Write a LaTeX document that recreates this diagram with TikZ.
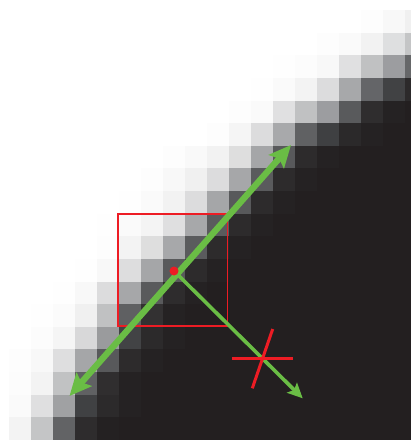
\documentclass[tikz,border=0pt]{standalone}
\usetikzlibrary{arrows.meta}
\definecolor{dk}{HTML}{231F20}
\definecolor{gr}{HTML}{6ABD45}
\definecolor{rd}{HTML}{ED1C24}
\newcommand{\pxrow}[4]{%
  \foreach \h [count=\i from #2] in {#4} {
    \definecolor{cc}{HTML}{\h}
    \fill[cc] ({9.3+22*\i},{10+22.63*#1}) rectangle ({9.3+22*\i+22.5},{10+22.63*#1+23});
  }
  \fill[dk] ({9.3+22*#3},{10+22.63*#1}) rectangle (412,{10+22.63*#1+23});
}
\tikzset{
  thickarrow/.style={gr, line width=6.3pt, {Stealth[length=22pt,width=20pt,inset=4pt]}-{Stealth[length=22pt,width=20pt,inset=4pt]}},
  thinarrow/.style={gr, line width=3.6pt, -{Stealth[length=15pt,width=14pt,inset=3pt]}},
  redbox/.style={rd, line width=1.9pt},
  redmark/.style={rd, line width=3pt},
  reddot/.style={circle, fill=rd, inner sep=0pt, minimum size=9pt}
}
\begin{document}
\begin{tikzpicture}[x=1pt,y=-1pt]
\useasboundingbox (0,0) rectangle (411,441);
\fill[white] (0,0) rectangle (411,441);
\begin{scope}
\clip (0,0) rectangle (411,441);
\pxrow{0}{16}{19}{FDFDFD,F8F8F8,F0F0F0}
\pxrow{1}{14}{19}{FDFDFD,FAFAFA,F2F2F2,DEDFE0,C4C5C6}
\pxrow{2}{12}{19}{FEFEFE,FCFCFC,F8F8F8,E0E0E1,C0C1C2,9C9DA0,666769}
\pxrow{3}{11}{19}{FEFEFE,FAFAFA,F3F3F3,DCDCDD,A7A8AA,646568,414244,2C2A2B}
\pxrow{4}{10}{18}{FDFDFD,FAFAFA,E0E0E1,C0C1C2,9C9DA0,595A5C,2F2D2E,252223}
\pxrow{5}{9}{17}{FDFDFD,F5F5F5,DCDCDD,A8A9AB,606163,3F4042,2B292A,252223}
\pxrow{6}{7}{15}{FDFDFD,F9F9F9,F2F2F2,DEDEDE,A5A6A8,58595B,2D2B2C,252223}
\pxrow{7}{6}{14}{FDFDFD,F8F8F8,F0F0F0,DCDCDD,A6A7A9,5A5B5D,2D2B2C,252223}
\pxrow{8}{5}{13}{FEFEFE,FAFAFA,F2F2F2,DCDCDD,A5A6A8,58595B,2D2B2C,252223}
\pxrow{9}{4}{12}{FEFEFE,FAFAFA,F4F4F4,DFDFE0,A7A8AA,5A5B5D,2D2B2C,252223}
\pxrow{10}{4}{11}{FDFDFD,F3F3F3,DEDEDE,A7A8AA,5A5B5D,2D2B2C,252223}
\pxrow{11}{3}{10}{FEFEFE,F8F8F8,DDDDDE,A5A6A8,58595B,2D2B2C,252223}
\pxrow{12}{2}{9}{FEFEFE,F8F8F8,DCDCDD,A6A7A9,595A5C,2E2C2D,252223}
\pxrow{13}{1}{8}{FEFEFE,FBFBFB,F0F0F0,C0C1C2,5F6062,333132,252223}
\pxrow{14}{1}{8}{FCFCFC,F5F5F5,D8D8D9,9A9B9D,424345,2C2A2B,252223}
\pxrow{15}{0}{7}{FDFDFD,F8F8F8,DEDEDF,A5A6A8,58595B,2D2B2C,252223}
\pxrow{16}{0}{6}{FCFCFC,F3F3F3,C1C2C3,606163,302E2F,252223}
\pxrow{17}{0}{6}{FAFAFA,DFDFE0,A0A1A3,404143,2C2A2B,252223}
\pxrow{18}{0}{5}{F3F3F3,C4C5C6,626365,2E2C2D,242122}
\end{scope}
\coordinate (lo) at (69.5,396);
\coordinate (hi) at (291,145);
\coordinate (ctr) at (174,271);
\coordinate (nt) at (302.7,398.3);
\coordinate (hl) at (232,358.5);
\coordinate (hr) at (293,358.5);
\coordinate (st) at (272.7,329);
\coordinate (sb) at (252.3,388.3);
\draw[redbox] (118.2,214) rectangle (227.5,325.8);
\draw[thickarrow] (lo) -- (hi);
\draw[thinarrow] (ctr) -- (nt);
\draw[redmark] (hl) -- (hr);
\draw[redmark] (st) -- (sb);
\node[reddot] (dot) at (ctr) {};
\end{tikzpicture}
\end{document}
